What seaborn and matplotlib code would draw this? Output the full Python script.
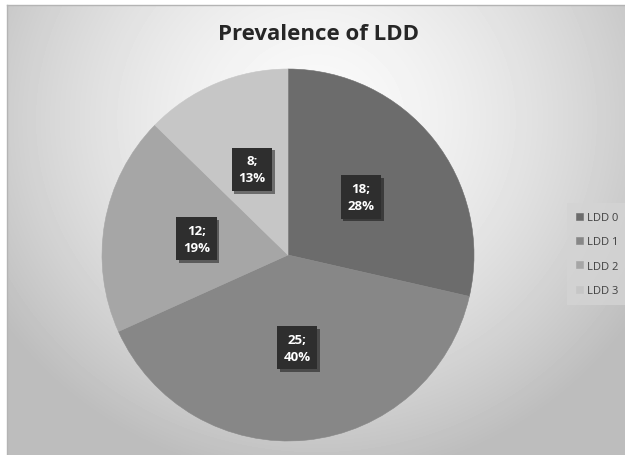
import numpy as np
import matplotlib
matplotlib.use("Agg")
import matplotlib.pyplot as plt
import matplotlib.patheffects as pe
import seaborn as sns

sns.set_theme(style="white")
plt.rcParams["font.family"] = ["Open Sans", "DejaVu Sans"]

# Data
categories = ["LDD 0", "LDD 1", "LDD 2", "LDD 3"]
counts = [18, 25, 12, 8]
percent_labels = [28, 40, 19, 13]
colors = ["#6c6c6c", "#878787", "#a6a6a6", "#c6c6c6"]

W, H, DPI = 625, 456, 100
fig = plt.figure(figsize=(W / DPI, H / DPI), dpi=DPI)
fig.patch.set_facecolor("white")

# Chart area with a radial grey gradient
left_px, top_px = 7, 6
bg = fig.add_axes([left_px / W, 0, 1 - left_px / W, 1 - top_px / H])
gw, gh = W - left_px, H - top_px
yy, xx = np.mgrid[0:gh, 0:gw]
cx, cy = 316 - left_px, 120 - top_px
d = np.sqrt(((xx - cx) / 1.05) ** 2 + (yy - cy) ** 2)
t = np.clip(d / 360.0, 0, 1)
shade = 189 + (250 - 189) * (1 - t ** 1.6)
bg.imshow(shade, cmap="gray", vmin=0, vmax=255, aspect="auto",
          extent=(0, gw, gh, 0), interpolation="bilinear")
bg.set_xticks([])
bg.set_yticks([])
for side in ["right", "bottom"]:
    bg.spines[side].set_visible(False)
for side in ["top", "left"]:
    bg.spines[side].set_color("#b4b4b4")
    bg.spines[side].set_linewidth(1.0)

# Pie axes
pcx, pcy, r = 288, 256, 186
ax = fig.add_axes([(pcx - r) / W, (H - pcy - r) / H, 2 * r / W, 2 * r / H])
ax.set_facecolor("none")
wedges, _, autotexts = ax.pie(
    counts, colors=colors, startangle=90, counterclock=False,
    radius=1.0, autopct="%1.0f%%", pctdistance=0.5,
    wedgeprops=dict(linewidth=0.4, edgecolor="none"),
)
for w, c in zip(wedges, colors):
    w.set_edgecolor(c)
ax.set_xlim(-1, 1)
ax.set_ylim(-1, 1)
ax.set_aspect("equal")
ax.axis("off")

for txt, n, p in zip(autotexts, counts, percent_labels):
    txt.set_text(f"{n};\n{p}%")
    txt.set_color("white")
    txt.set_fontweight("bold")
    txt.set_fontsize(9.5)
    txt.set_linespacing(1.4)
    txt.set_ha("center")
    txt.set_va("center")
    txt.set_bbox(dict(boxstyle="square,pad=0.5", fc="#2e2e2e", ec="none"))
    txt.get_bbox_patch().set_path_effects([
        pe.SimplePatchShadow(offset=(2, -2), shadow_rgbFace="#000000", alpha=0.45),
        pe.Normal(),
    ])

# Title
fig.text(319 / W, 1 - 34 / H, "Prevalence of LDD", ha="center", va="center",
         fontsize=16, fontweight="bold", color="#262626")

# Legend
leg = fig.legend(
    wedges, categories, loc="center left",
    bbox_to_anchor=(567 / W, 1 - 255 / H),
    frameon=True, fancybox=False, fontsize=8,
    handlelength=0.6, handleheight=0.6, handletextpad=0.4,
    labelspacing=1.2, borderpad=0.8, borderaxespad=0,
)
leg.get_frame().set_facecolor("#d4d4d4")
leg.get_frame().set_edgecolor("none")
leg.get_frame().set_alpha(0.8)
for t_ in leg.get_texts():
    t_.set_color("#404040")

fig.savefig("out.png", dpi=DPI)
